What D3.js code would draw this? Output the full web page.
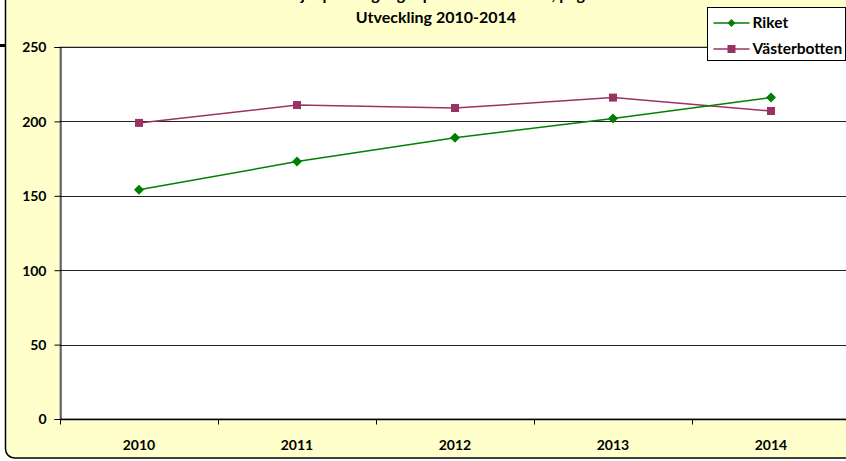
<!DOCTYPE html>
<html>
<head>
<meta charset="utf-8">
<script src="https://cdn.jsdelivr.net/npm/d3@7/dist/d3.min.js"></script>
<style>
  body { margin:0; background:#fff; }
  svg text { font-family: Lato, "Open Sans", sans-serif; font-weight: bold; fill:#000; }
</style>
</head>
<body>
<div id="canvas"></div>
<script>
// data
var years = ['2010','2011','2012','2013','2014'];
var riket = [154, 173, 189, 202, 216];
var vasterbotten = [199, 211, 209, 216, 207];
var yTicks = [0, 50, 100, 150, 200, 250];
var seriesNames = ['Riket', 'Västerbotten'];
var titleLines = ['Antal sjukpenningdagar per 1000 invånare, pågående', 'Utveckling 2010-2014'];

var W = 846, H = 461;
var m = {t:47, r:-4, b:42, l:60};
var w = W - m.l - m.r, h = H - m.t - m.b;

var svg = d3.select('#canvas').append('svg')
    .attr('width', W).attr('height', H);

// outer chart area (cut off at top and right)
svg.append('rect')
    .attr('x', 5.5).attr('y', -20).attr('width', 870).attr('height', 478)
    .attr('rx', 9).attr('fill', '#ffffcc').attr('stroke', '#000').attr('stroke-width', 1.5);
svg.append('rect').attr('x', 0).attr('y', 44).attr('width', 5).attr('height', 3).attr('fill', '#000');

// title, first line is mostly outside the picture like in the source
svg.append('text').attr('x', 440).attr('y', 0).attr('text-anchor','middle')
    .style('font-size','16px').text(titleLines[0]);
svg.append('text').attr('x', 436).attr('y', 23).attr('text-anchor','middle')
    .style('font-size','16px').text(titleLines[1]);

var plot = svg.append('g').attr('transform','translate(' + m.l + ',' + m.t + ')');

var x = d3.scaleBand().domain(years).range([0, w]);
var y = d3.scaleLinear().domain([0, 250]).range([h, 0]);

plot.append('rect').attr('width', w).attr('height', h).attr('fill', '#fff')
    .attr('stroke', '#888').attr('stroke-width', 1);

// gridlines
plot.selectAll('.grid').data(yTicks.slice(1)).enter().append('line')
    .attr('x1', 0).attr('x2', w)
    .attr('y1', function(d){ return Math.round(y(d)) + 0.5; })
    .attr('y2', function(d){ return Math.round(y(d)) + 0.5; })
    .attr('stroke', '#222').attr('stroke-width', 1.2);

// y axis
var axisY = d3.axisLeft(y).tickValues(yTicks).tickSize(6).tickPadding(8);
var gy = plot.append('g').attr('transform','translate(0.5,0)').call(axisY);
gy.select('.domain').attr('stroke','#000');
gy.selectAll('text').style('font-size','14px').attr('dy','0.35em');

// x axis (ticks at category boundaries)
var gx = plot.append('g').attr('transform','translate(0,' + (h + 0.5) + ')');
gx.append('line').attr('x1', 0).attr('x2', w).attr('stroke', '#000').attr('stroke-width', 1.5);
gx.selectAll('.tk').data(d3.range(years.length + 1)).enter().append('line')
    .attr('x1', function(i){ return Math.round(i * x.bandwidth()) + 0.5; })
    .attr('x2', function(i){ return Math.round(i * x.bandwidth()) + 0.5; })
    .attr('y1', 0).attr('y2', 5).attr('stroke', '#000');
gx.selectAll('.lbl').data(years).enter().append('text')
    .attr('x', function(d){ return x(d) + x.bandwidth() / 2; })
    .attr('y', 30).attr('text-anchor','middle').style('font-size','14px')
    .text(function(d){ return d; });

var cx = function(d, i){ return x(years[i]) + x.bandwidth() / 2; };
var line = d3.line().x(cx).y(function(d){ return y(d); });

// Västerbotten
plot.append('path').datum(vasterbotten).attr('d', line)
    .attr('fill','none').attr('stroke','#993366').attr('stroke-width', 1.5);
plot.selectAll('.sq').data(vasterbotten).enter().append('rect')
    .attr('x', function(d, i){ return cx(d, i) - 4; })
    .attr('y', function(d){ return y(d) - 4; })
    .attr('width', 8).attr('height', 8).attr('fill', '#993366');

// Riket
plot.append('path').datum(riket).attr('d', line)
    .attr('fill','none').attr('stroke','#008000').attr('stroke-width', 1.5);
plot.selectAll('.dm').data(riket).enter().append('path')
    .attr('transform', function(d, i){ return 'translate(' + cx(d, i) + ',' + y(d) + ')'; })
    .attr('d', 'M0,-5L5,0L0,5L-5,0Z').attr('fill', '#008000');

// legend
var lg = svg.append('g').attr('transform','translate(707.5,7.5)');
lg.append('rect').attr('width', 138).attr('height', 53).attr('fill','#fff').attr('stroke','#000');
var colors = ['#008000', '#993366'];
seriesNames.forEach(function(name, i){
  var yy = 15.5 + i * 26;
  lg.append('line').attr('x1', 6).attr('x2', 42).attr('y1', yy).attr('y2', yy)
      .attr('stroke', colors[i]).attr('stroke-width', 1.5);
  if (i === 0) {
    lg.append('path').attr('transform','translate(24,' + yy + ')')
        .attr('d','M0,-4L4,0L0,4L-4,0Z').attr('fill', colors[i]);
  } else {
    lg.append('rect').attr('x', 20).attr('y', yy - 4).attr('width', 8).attr('height', 8).attr('fill', colors[i]);
  }
  lg.append('text').attr('x', 45).attr('y', yy + 5).style('font-size','15.5px').text(name);
});
</script>
</body>
</html>
